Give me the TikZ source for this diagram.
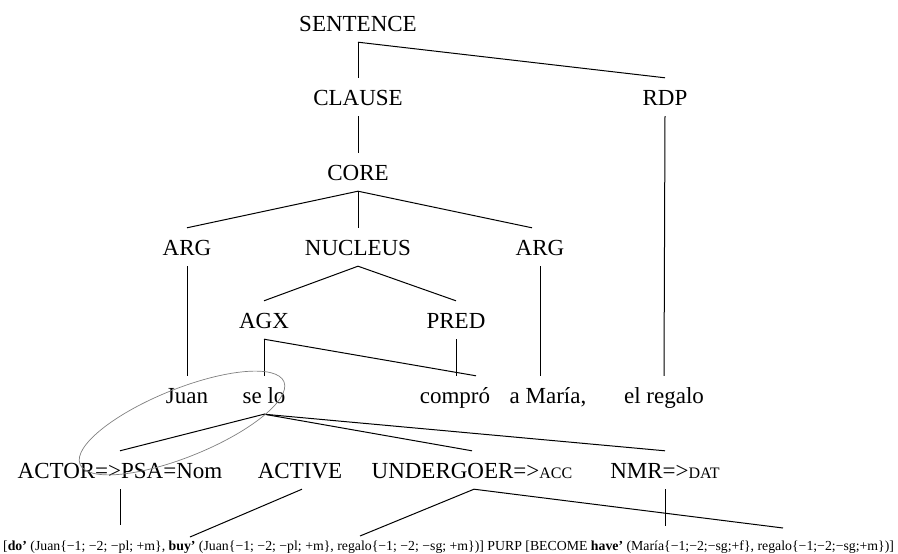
\documentclass[tikz,border=0pt]{standalone}
\usepackage{fontspec}
\setmainfont{Liberation Serif}

\begin{document}
\begin{tikzpicture}[x=1pt, y=1pt,
    tree/.style={font=\fontsize{23}{27}\selectfont, text height=21pt, text depth=5pt,
                 inner xsep=0pt, inner ysep=6pt, anchor=base},
    branch/.style={black, line width=1pt}]
        \useasboundingbox (0,0) rectangle (898,-554);

        % Узлы дерева
        \node[tree] (sentence) at (358,-31)  {SENTENCE};
        \node[tree] (clause)   at (358,-105) {CLAUSE};
        \node[tree] (rdp)      at (665,-105) {RDP};
        \node[tree] (core)     at (358,-180) {CORE};
        \node[tree] (arga)     at (187,-255) {ARG};
        \node[tree] (nucleus)  at (358,-255) {NUCLEUS};
        \node[tree] (argb)     at (540,-255) {ARG};
        \node[tree] (agx)      at (264,-328) {AGX};
        \node[tree] (pred)     at (456,-328) {PRED};

        % Слова
        \node[tree] (juan)   at (187,-403) {Juan};
        \node[tree] (selo)   at (264,-403) {se lo};
        \node[tree] (compro) at (455,-403) {compró};
        \node[tree] (maria)  at (548,-403) {a María,};
        \node[tree] (regalo) at (664,-403) {el regalo};

        % Роли
        \node[tree] (actor)     at (120,-478) {ACTOR=>PSA=Nom};
        \node[tree] (active)    at (300,-478) {ACTIVE};
        \node[tree] (undergoer) at (472,-478) {UNDERGOER=>{\fontsize{16}{18}\selectfont ACC}};
        \node[tree] (nmr)       at (665,-478) {NMR=>{\fontsize{16}{18}\selectfont DAT}};

        % Логическая структура
        \node[anchor=base west, inner sep=0pt, font=\fontsize{13.8}{16}\selectfont] (lsr) at (3,-550)
            {[\textbf{do'} (Juan\{−1; −2; −pl; +m\}, \textbf{buy'} (Juan\{−1; −2; −pl; +m\}, regalo\{−1; −2; −sg; +m\})] PURP [BECOME \textbf{have'} (María\{−1;−2;−sg;+f\}, regalo\{−1;−2;−sg;+m\})]};
        \coordinate (doarg)   at (120,-525);
        \coordinate (buyarg)  at (190,-537);
        \coordinate (thmarg)  at (360,-536);
        \coordinate (havethm) at (783,-528);
        \coordinate (havearg) at (665,-526);

        % Ветви
        \draw[branch] (sentence.south) -- (clause.north);
        \draw[branch] (sentence.south) -- (rdp.north);
        \draw[branch] (clause.south) -- (core.north);
        \draw[branch] (core.south) -- (arga.north);
        \draw[branch] (core.south) -- (nucleus.north);
        \draw[branch] (core.south) -- ([xshift=-8pt]argb.north);
        \draw[branch] (arga.south) -- (juan.north);
        \draw[branch] (nucleus.south) -- (agx.north);
        \draw[branch] (nucleus.south) -- (pred.north);
        \draw[branch] (agx.south) -- (selo.north);
        \draw[branch] (agx.south) -- ([xshift=21pt]compro.north);
        \draw[branch] (pred.south) -- (pred.south |- compro.north);
        \draw[branch] (argb.south) -- (argb.south |- maria.north);
        \draw[branch] (rdp.south) -- (regalo.north);

        % Связи с ролями
        \draw[branch] (selo.south) -- (actor.north);
        \draw[branch] (selo.south) -- (undergoer.north);
        \draw[branch] (selo.south) -- (nmr.north);
        \draw[branch] (actor.south) -- (doarg);
        \draw[branch] ([xshift=2pt]active.south) -- (buyarg);
        \draw[branch] ([xshift=2pt]undergoer.south) -- (thmarg);
        \draw[branch] ([xshift=2pt]undergoer.south) -- (havethm);
        \draw[branch] (nmr.south) -- (havearg);

        % Овал
        \draw[gray, line width=0.7pt, rotate around={22:(182,-423)}] (182,-423) ellipse [x radius=110, y radius=34];
    \end{tikzpicture}
\end{document}
